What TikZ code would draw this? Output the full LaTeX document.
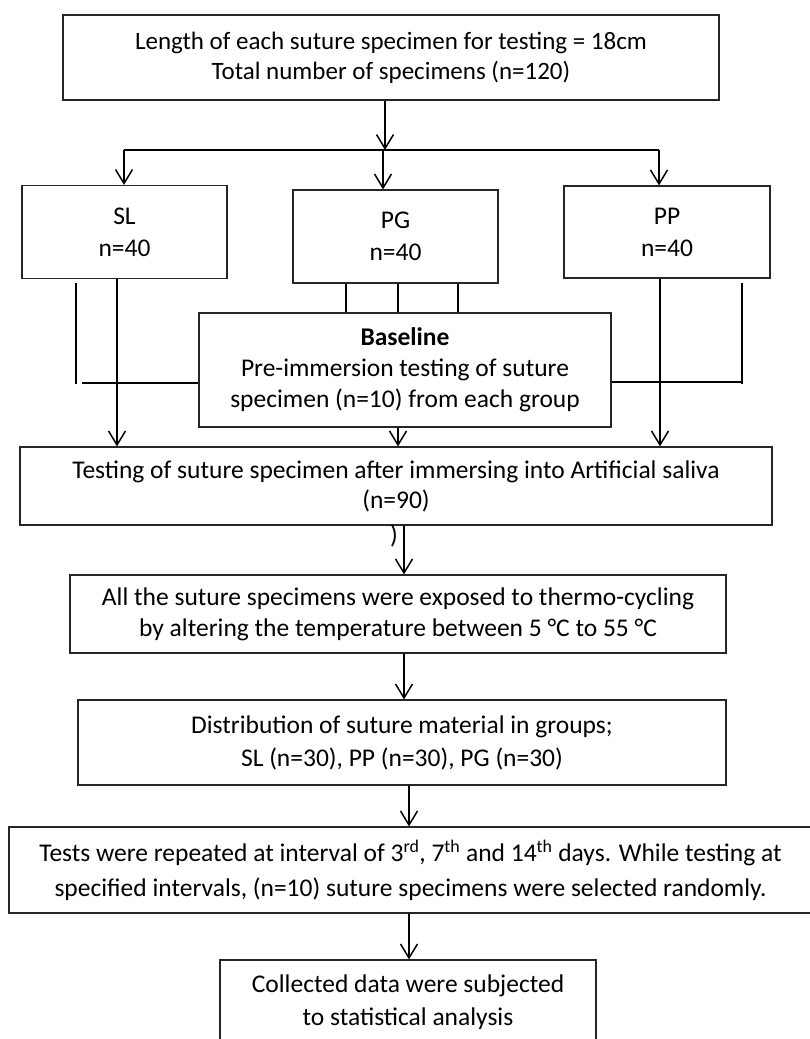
\documentclass[tikz,border=0pt]{standalone}
\usepackage{fontspec}
\setmainfont{Carlito}
\usetikzlibrary{arrows.meta}
\begin{document}
\begin{tikzpicture}[x=1pt,y=-1pt,
  box/.style={draw=black!85, line width=1.2pt, align=center, inner sep=0pt,
    font=\fontsize{25.5}{31}\selectfont},
  conn/.style={draw=black, line width=1.7pt},
  arr/.style={conn, -{Straight Barb[length=14pt,width=17pt,line width=1.5pt]}}]
\useasboundingbox[fill=white] (0,0) rectangle (809,1039);
% boxes
\node[box, minimum width=656, minimum height=85, font=\fontsize{25}{30}\selectfont] (top) at (391,57.5)
  {Length of each suture specimen for testing = 18cm\\Total number of specimens (n=120)};
\node[box, minimum width=205, minimum height=93, font=\fontsize{25.5}{32}\selectfont] (sl) at (124.5,232) {SL\\n=40};
\node[box, minimum width=205, minimum height=93, font=\fontsize{25.5}{32}\selectfont] (pg) at (395.5,236.5) {PG\\n=40};
\node[box, minimum width=206, minimum height=92, font=\fontsize{25.5}{32}\selectfont] (pp) at (667,232) {PP\\n=40};
\node[box, minimum width=412, minimum height=114, font=\fontsize{25.5}{31}\selectfont] (base) at (405,370)
  {\textbf{Baseline}\\Pre-immersion testing of suture\\specimen (n=10) from each group};
\node[box, minimum width=752, minimum height=78, font=\fontsize{25.5}{30}\selectfont] (test) at (396,486)
  {Testing of suture specimen after immersing into Artificial saliva\\(n=90)};
\node[box, minimum width=656, minimum height=78] (thermo) at (398,614)
  {All the suture specimens were exposed to thermo-cycling\\by altering the temperature between 5 °C to 55 °C};
\node[box, minimum width=648, minimum height=85, font=\fontsize{25.5}{33}\selectfont] (dist) at (402,742.5)
  {Distribution of suture material in groups;\\SL (n=30), PP (n=30), PG (n=30)};
\node[box, minimum width=803, minimum height=86, font=\fontsize{25.5}{35}\selectfont] (tests) at (410.5,870)
  {Tests were repeated at interval of 3\textsuperscript{rd}, 7\textsuperscript{th} and 14\textsuperscript{th} days. While testing at\\specified intervals, (n=10) suture specimens were selected randomly.};
\node[box, minimum width=376, minimum height=84, font=\fontsize{25.5}{33}\selectfont] (coll) at (408,1002)
  {Collected data were subjected\\to statistical analysis};
\node[font=\fontsize{25.5}{28}\selectfont, inner sep=0pt] (paren) at (394,536) {)};
% coordinates
\coordinate (j0) at (385,150);
\coordinate (jl) at (124,150);
\coordinate (jm) at (383,150);
\coordinate (jr) at (659,150);
\coordinate (sla) at (76,283);
\coordinate (slb) at (76,384);
\coordinate (slh) at (82,383);
\coordinate (ppa) at (742,283);
\coordinate (ppb) at (742,384);
\coordinate (pph) at (742,382);
% connectors
\draw[arr] (385,0 |- top.south) -- (j0);
\draw[conn] (jl) -- (jr);
\draw[arr] (jl) -- (jl |- sl.north);
\draw[arr] (jm) -- (jm |- pg.north);
\draw[arr] (jr) -- (jr |- pp.north);
% SL side
\draw[conn] (sla) -- (slb);
\draw[arr] (117,0 |- sl.south) -- (117,0 |- test.north);
\draw[conn] (slh) -- (slh -| base.west);
% PG to baseline
\draw[conn] (346,0 |- pg.south) -- (346,0 |- base.north);
\draw[conn] (398,0 |- pg.south) -- (398,0 |- base.north);
\draw[conn] (458,0 |- pg.south) -- (458,0 |- base.north);
\draw[arr] (398,0 |- base.south) -- (398,0 |- test.north);
% PP side
\draw[arr] (660,0 |- pp.south) -- (660,0 |- test.north);
\draw[conn] (ppa) -- (ppb);
\draw[conn] (pph -| base.east) -- (pph);
% lower chain
\draw[arr] (404,0 |- test.south) -- (404,0 |- thermo.north);
\draw[arr] (404,0 |- thermo.south) -- (404,0 |- dist.north);
\draw[arr] (409,0 |- dist.south) -- (409,0 |- tests.north);
\draw[arr] (409,0 |- tests.south) -- (409,0 |- coll.north);
\end{tikzpicture}
\end{document}
